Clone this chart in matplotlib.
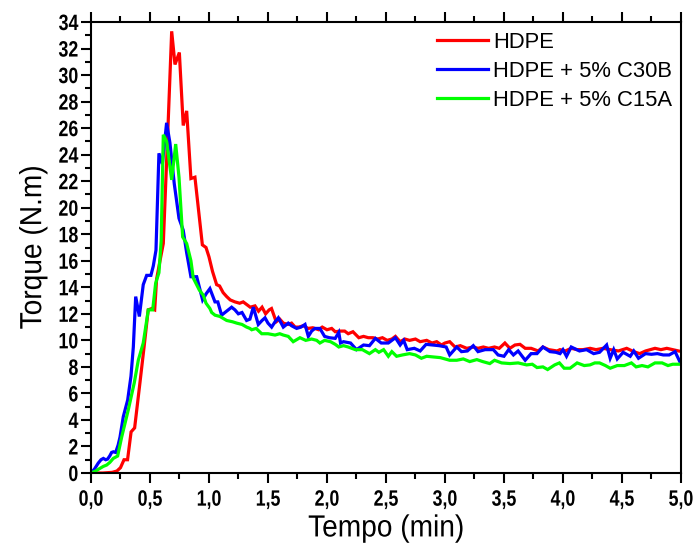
import matplotlib
matplotlib.use("Agg")
import matplotlib.pyplot as plt
from matplotlib import font_manager
from matplotlib.ticker import MultipleLocator, FuncFormatter
from matplotlib.patheffects import AbstractPathEffect
from matplotlib.transforms import Affine2D

names = {f.name for f in font_manager.fontManager.ttflist}
regular = "Liberation Sans" if "Liberation Sans" in names else "DejaVu Sans"


class Squeeze(AbstractPathEffect):
    """Draw text glyphs compressed horizontally (condensed look)."""

    def __init__(self, sx=0.82, anchor=0.5):
        super().__init__()
        self.sx = sx
        self.anchor = anchor

    def draw_path(self, renderer, gc, tpath, affine, rgbFace=None):
        ext = tpath.get_extents()
        x0 = ext.x0 + self.anchor * ext.width
        pre = Affine2D().translate(-x0, 0).scale(self.sx, 1.0).translate(x0, 0)
        renderer.draw_path(gc, tpath, pre + affine, rgbFace)


series_labels = ["HDPE", "HDPE + 5% C30B", "HDPE + 5% C15A"]
series_colors = ["#ff0000", "#0000ff", "#00ff00"]

hdpe_t = [0.00, 0.10, 0.18, 0.22, 0.25, 0.28, 0.31, 0.34, 0.37, 0.415, 0.45, 0.485, 0.515, 0.54, 0.556,
          0.585, 0.613, 0.655, 0.684, 0.712, 0.749, 0.782, 0.811, 0.847, 0.881, 0.944, 0.975, 1.00, 1.03,
          1.065, 1.09, 1.12, 1.15, 1.18, 1.22, 1.26, 1.29, 1.32, 1.35, 1.39, 1.42, 1.45, 1.48, 1.51, 1.53,
          1.57, 1.60, 1.63, 1.67, 1.70, 1.73, 1.76, 1.80, 1.84, 1.88, 1.93, 1.96, 2.00, 2.04, 2.07, 2.11,
          2.15, 2.18, 2.22, 2.27, 2.31, 2.35, 2.39, 2.43, 2.47, 2.51, 2.55, 2.58, 2.62, 2.66, 2.70, 2.75,
          2.79, 2.845, 2.89, 2.93, 2.97, 3.00, 3.04, 3.085, 3.13, 3.185, 3.24, 3.28, 3.325, 3.37, 3.42,
          3.46, 3.508, 3.55, 3.593, 3.636, 3.68, 3.73, 3.79, 3.83, 3.88, 3.95, 3.975, 4.02, 4.07, 4.12,
          4.17, 4.23, 4.28, 4.34, 4.40, 4.47, 4.54, 4.60, 4.65, 4.70, 4.78, 4.83, 4.88, 4.93, 4.98]
hdpe_v = [0.00, 0.00, 0.05, 0.15, 0.40, 1.00, 1.00, 3.10, 3.40, 6.8, 9.5, 12.3, 12.4, 12.3, 14.6,
          16.0, 17.3, 26.6, 33.3, 30.8, 31.7, 26.2, 27.3, 22.2, 22.3, 17.2, 17.0, 16.3, 15.2,
          14.2, 14.1, 13.6, 13.3, 13.05, 12.9, 12.8, 12.9, 12.7, 12.5, 12.6, 12.2, 12.5, 12.0, 12.3, 12.4,
          11.4, 11.6, 11.3, 11.2, 11.3, 11.0, 11.0, 11.1, 10.9, 10.95, 10.8, 11.0, 10.8, 10.9, 10.65, 10.7,
          10.7, 10.5, 10.65, 10.2, 10.3, 10.2, 10.2, 10.1, 10.2, 10.0, 10.1, 10.3, 9.9, 10.1, 10.0, 10.1,
          9.9, 10.0, 9.8, 9.9, 9.65, 9.8, 9.9, 9.5, 9.6, 9.4, 9.5, 9.4, 9.5, 9.4, 9.5,
          9.4, 9.8, 9.4, 9.65, 9.7, 9.4, 9.4, 9.2, 9.5, 9.3, 9.2, 9.3, 9.2, 9.4, 9.3,
          9.3, 9.4, 9.3, 9.4, 9.3, 9.2, 9.4, 9.15, 9.0, 9.2, 9.4, 9.3, 9.4, 9.3, 9.2]

c30b_t = [0.00, 0.03, 0.062, 0.085, 0.105, 0.125, 0.141, 0.16, 0.175, 0.19, 0.209, 0.23, 0.246, 0.274,
          0.311, 0.339, 0.359, 0.379, 0.41, 0.443, 0.472, 0.508, 0.528, 0.551, 0.576, 0.605, 0.641, 0.669,
          0.706, 0.746, 0.782, 0.811, 0.847, 0.896, 0.946, 0.975, 1.008, 1.051, 1.075, 1.107, 1.15, 1.192,
          1.22, 1.249, 1.28, 1.319, 1.347, 1.376, 1.418, 1.45, 1.475, 1.50, 1.531, 1.56, 1.588, 1.63,
          1.672, 1.70, 1.743, 1.78, 1.814, 1.842, 1.87, 1.898, 1.94, 1.98, 2.02, 2.07, 2.10, 2.115, 2.14,
          2.20, 2.25, 2.31, 2.36, 2.41, 2.46, 2.52, 2.58, 2.62, 2.65, 2.68, 2.74, 2.79, 2.84, 2.90, 2.95,
          3.01, 3.04, 3.10, 3.14, 3.19, 3.24, 3.28, 3.34, 3.41, 3.45, 3.50, 3.54, 3.58, 3.62, 3.68, 3.73,
          3.78, 3.83, 3.89, 3.94, 3.975, 4.00, 4.03, 4.07, 4.14, 4.20, 4.26, 4.31, 4.37, 4.40, 4.43, 4.46,
          4.51, 4.57, 4.60, 4.64, 4.70, 4.75, 4.80, 4.85, 4.90, 4.95, 4.99]
c30b_v = [0.0, 0.3, 0.75, 1.0, 1.1, 1.0, 1.05, 1.3, 1.55, 1.6, 1.55, 2.1, 2.7, 4.25,
          5.5, 7.3, 9.5, 13.3, 11.8, 14.2, 14.9, 14.9, 15.6, 16.8, 24.1, 23.3, 26.4, 24.9,
          21.8, 19.2, 18.3, 16.6, 14.8, 14.8, 13.05, 13.5, 13.9, 12.9, 12.9, 11.9, 12.2, 12.5,
          12.3, 12.0, 12.1, 11.5, 11.6, 12.5, 11.2, 11.5, 11.7, 11.3, 11.0, 11.4, 11.7, 11.0,
          11.3, 11.1, 10.9, 11.0, 11.2, 10.3, 10.7, 10.9, 10.9, 10.3, 10.2, 10.15, 10.6, 9.8, 9.9,
          9.8, 9.3, 9.65, 9.6, 10.15, 9.8, 9.8, 10.2, 9.65, 10.0, 9.3, 9.4, 9.2, 9.7, 9.65, 9.6,
          9.5, 8.9, 9.5, 9.15, 9.2, 9.6, 9.15, 9.3, 9.3, 8.9, 8.8, 9.3, 8.9, 9.2, 8.5, 9.0,
          9.0, 9.5, 9.15, 9.1, 9.0, 9.3, 8.8, 9.5, 9.2, 9.3, 9.0, 9.1, 9.65, 8.65, 9.3, 8.6,
          9.1, 8.8, 9.2, 8.65, 9.0, 8.95, 9.0, 8.9, 8.9, 9.15, 8.4]

c15a_t = [0.00, 0.04, 0.076, 0.105, 0.133, 0.16, 0.189, 0.226, 0.26, 0.316, 0.367, 0.401, 0.443, 0.486,
          0.523, 0.548, 0.576, 0.595, 0.613, 0.641, 0.684, 0.718, 0.746, 0.777, 0.811, 0.847, 0.867, 0.918,
          0.952, 0.975, 1.008, 1.023, 1.051, 1.093, 1.15, 1.20, 1.235, 1.28, 1.319, 1.347, 1.362, 1.40,
          1.447, 1.50, 1.56, 1.60, 1.63, 1.672, 1.714, 1.771, 1.82, 1.87, 1.913, 1.94, 1.98, 2.03, 2.07,
          2.10, 2.14, 2.18, 2.24, 2.30, 2.36, 2.41, 2.44, 2.48, 2.52, 2.55, 2.59, 2.64, 2.70, 2.75, 2.80,
          2.845, 2.90, 2.96, 3.04, 3.10, 3.155, 3.21, 3.27, 3.32, 3.38, 3.42, 3.48, 3.551, 3.62, 3.692,
          3.74, 3.78, 3.83, 3.87, 3.93, 3.97, 4.01, 4.06, 4.12, 4.18, 4.229, 4.27, 4.31, 4.36, 4.40, 4.46,
          4.52, 4.58, 4.62, 4.67, 4.72, 4.78, 4.84, 4.89, 4.93, 4.99]
c15a_v = [0.0, 0.15, 0.35, 0.5, 0.6, 0.8, 1.1, 1.28, 2.7, 4.75, 6.8, 8.5, 9.8, 12.3,
          12.3, 14.3, 15.1, 17.5, 25.5, 25.0, 22.1, 24.8, 22.3, 17.8, 17.3, 16.0, 14.7, 13.8,
          13.4, 12.8, 12.4, 12.1, 11.9, 11.8, 11.5, 11.4, 11.3, 11.2, 11.0, 10.9, 10.8, 10.9,
          10.5, 10.5, 10.4, 10.5, 10.4, 10.3, 9.9, 10.2, 10.0, 10.1, 10.0, 9.8, 10.0, 9.9, 9.7,
          9.5, 9.6, 9.5, 9.3, 9.3, 9.0, 9.3, 9.1, 9.3, 8.8, 9.15, 8.8, 8.9, 9.0, 8.9, 8.65,
          8.8, 8.75, 8.7, 8.5, 8.5, 8.6, 8.4, 8.55, 8.4, 8.25, 8.5, 8.3, 8.25, 8.3, 8.15,
          8.2, 7.95, 8.0, 7.8, 8.15, 8.3, 7.9, 7.9, 8.3, 8.1, 8.15, 8.3, 8.3, 8.1, 7.9, 8.1,
          8.1, 8.3, 8.0, 8.1, 8.0, 8.3, 8.3, 8.1, 8.2, 8.2]

x_major = 0.5
y_major = 2

fig = plt.figure(figsize=(6.96, 5.45), dpi=100)
ax = fig.add_axes([0.1307, 0.1321, 0.8477, 0.8275])

for t, v, lab, col in zip([hdpe_t, c30b_t, c15a_t], [hdpe_v, c30b_v, c15a_v], series_labels, series_colors):
    ax.plot(t, v, color=col, lw=2.3, label=lab, solid_joinstyle="miter")

ax.set_xlim(0, 5)
ax.set_ylim(0, 34)
ax.xaxis.set_major_locator(MultipleLocator(x_major))
ax.xaxis.set_minor_locator(MultipleLocator(x_major / 2))
ax.yaxis.set_major_locator(MultipleLocator(y_major))
ax.yaxis.set_minor_locator(MultipleLocator(y_major / 2))
ax.xaxis.set_major_formatter(FuncFormatter(lambda v, p: f"{v:.1f}".replace(".", ",")))
ax.yaxis.set_major_formatter(FuncFormatter(lambda v, p: f"{int(round(v))}"))

ax.tick_params(which="both", direction="out", top=True, right=False, width=1.5)
ax.tick_params(which="major", length=7)
ax.tick_params(which="minor", length=4)
ax.tick_params(axis="x", which="major", pad=5)
ax.tick_params(axis="y", which="major", pad=2)
for lab in ax.get_xticklabels():
    lab.set_fontfamily(regular)
    lab.set_fontweight("bold")
    lab.set_fontsize(16)
    lab.set_path_effects([Squeeze(0.8, 0.5)])
for lab in ax.get_yticklabels():
    lab.set_fontfamily(regular)
    lab.set_fontweight("bold")
    lab.set_fontsize(16)
    lab.set_path_effects([Squeeze(0.8, 1.0)])

for s in ax.spines.values():
    s.set_linewidth(1.5)

xl = ax.set_xlabel("Tempo (min)", fontfamily=regular, fontsize=22, labelpad=2)
xl.set_path_effects([Squeeze(0.92, 0.5)])
yl = ax.set_ylabel("Torque (N.m)", fontfamily=regular, fontsize=22, labelpad=4)
yl.set_path_effects([Squeeze(0.92, 0.5)])

leg = ax.legend(loc="upper right", bbox_to_anchor=(0.985, 0.978), frameon=False,
                prop={"family": regular, "size": 15.8}, handlelength=2.3, handletextpad=0.25,
                labelspacing=0.36, borderaxespad=0, borderpad=0)
for line in leg.get_lines():
    line.set_linewidth(2.3)

fig.savefig("out.png", dpi=100)
